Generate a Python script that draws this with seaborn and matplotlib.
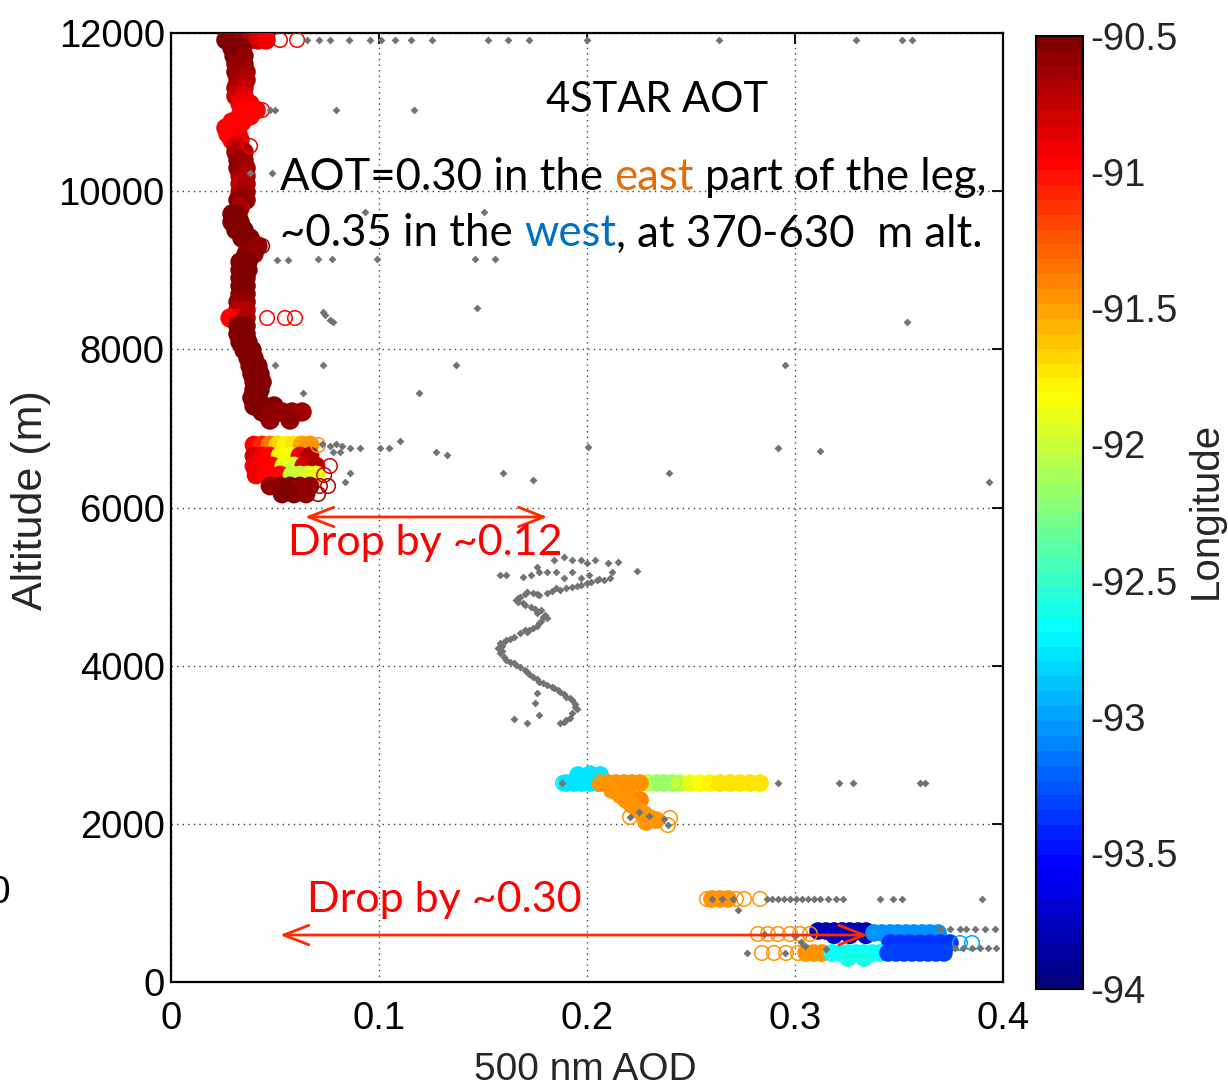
import matplotlib
matplotlib.use("Agg")
import matplotlib.pyplot as plt
import numpy as np
import pandas as pd
import seaborn as sns
from matplotlib.colors import Normalize, LinearSegmentedColormap
from matplotlib.cm import ScalarMappable

# ---------------------------------------------------------------------------
# 4STAR profile: 500 nm AOD vs altitude, coloured by longitude
# ---------------------------------------------------------------------------

# upper profile (dense track, filled circles)
upper_aod = [0.0264, 0.0303, 0.0341, 0.0380, 0.0418, 0.0457,
             0.0293, 0.0341, 0.0303, 0.0351, 0.0312, 0.0351, 0.0312, 0.0361,
             0.0322, 0.0361, 0.0312, 0.0351, 0.0312, 0.0351, 0.0332, 0.0380,
             0.0361, 0.0409, 0.0332, 0.0380, 0.0293, 0.0341, 0.0264, 0.0312,
             0.0274, 0.0322, 0.0293, 0.0332, 0.0312, 0.0312, 0.0351,
             0.0322, 0.0351, 0.0322, 0.0361, 0.0332, 0.0361, 0.0332, 0.0361,
             0.0332, 0.0361, 0.0322, 0.0361, 0.0332, 0.0293, 0.0322,
             0.0293, 0.0332, 0.0312, 0.0351, 0.0341, 0.0380, 0.0370, 0.0418,
             0.0361, 0.0399, 0.0332, 0.0370, 0.0332, 0.0370, 0.0332, 0.0361,
             0.0332, 0.0361, 0.0332, 0.0361, 0.0322, 0.0361, 0.0322, 0.0361,
             0.0284, 0.0322, 0.0361, 0.0322, 0.0361, 0.0322, 0.0361,
             0.0332, 0.0370, 0.0351, 0.0389, 0.0370, 0.0399, 0.0380, 0.0418,
             0.0389, 0.0428, 0.0399, 0.0438, 0.0399, 0.0428, 0.0389, 0.0418,
             0.0399, 0.0447, 0.0495, 0.0438, 0.0486, 0.0534, 0.0582, 0.0630,
             0.0476, 0.0572]
upper_alt = [11912, 11912, 11912, 11912, 11912, 11912,
             11810, 11810, 11709, 11709, 11608, 11608, 11507, 11507,
             11406, 11406, 11305, 11305, 11203, 11203, 11102, 11102,
             11026, 11026, 10951, 10951, 10875, 10875, 10799, 10799,
             10723, 10723, 10647, 10647, 10571, 10495, 10495,
             10394, 10394, 10293, 10293, 10192, 10192, 10091, 10091,
             9990, 9990, 9888, 9888, 9787, 9711, 9711,
             9610, 9610, 9509, 9509, 9408, 9408, 9307, 9307,
             9206, 9206, 9104, 9104, 9003, 9003, 8902, 8902,
             8801, 8801, 8700, 8700, 8599, 8599, 8497, 8497,
             8396, 8396, 8396, 8295, 8295, 8194, 8194,
             8093, 8093, 7992, 7992, 7890, 7890, 7789, 7789,
             7688, 7688, 7587, 7587, 7486, 7486, 7385, 7385,
             7284, 7284, 7284, 7208, 7208, 7208, 7208, 7208,
             7106, 7106]
upper_lon = [-90.55, -90.55, -90.60, -90.70, -90.80, -90.90,
             -90.55, -90.55, -90.55, -90.60, -90.60, -90.60, -90.60, -90.65,
             -90.65, -90.70, -90.70, -90.75, -90.80, -90.85, -90.90, -90.90,
             -90.96, -90.96, -90.96, -90.96, -90.96, -90.96, -90.96, -90.96,
             -90.96, -90.95, -90.95, -90.90, -90.80, -90.70, -90.70,
             -90.60, -90.65, -90.60, -90.65, -90.65, -90.70, -90.75, -90.70,
             -90.70, -90.65, -90.60, -90.60, -90.70, -90.50, -90.50,
             -90.50, -90.50, -90.50, -90.55, -90.55, -90.55, -90.55, -90.60,
             -90.60, -90.60, -90.55, -90.55, -90.50, -90.50, -90.50, -90.50,
             -90.50, -90.55, -90.55, -90.55, -90.60, -90.60, -90.70, -90.70,
             -90.96, -90.90, -90.70, -90.50, -90.50, -90.50, -90.50,
             -90.50, -90.50, -90.50, -90.50, -90.50, -90.50, -90.50, -90.55,
             -90.55, -90.55, -90.55, -90.55, -90.55, -90.55, -90.55, -90.55,
             -90.55, -90.55, -90.55, -90.55, -90.60, -90.60, -90.60, -90.65,
             -90.60, -90.60]

# level leg near 6.5 km
leg65_aod = [0.0399, 0.0438, 0.0476, 0.0514, 0.0553, 0.0591, 0.0630, 0.0668,
             0.0399, 0.0438, 0.0476, 0.0524, 0.0572, 0.0620, 0.0668,
             0.0399, 0.0438, 0.0486, 0.0543, 0.0591, 0.0639, 0.0697,
             0.0409, 0.0457, 0.0524, 0.0582, 0.0620, 0.0659, 0.0697,
             0.0476, 0.0524, 0.0572, 0.0620, 0.0668,
             0.0534, 0.0591, 0.0649]
leg65_alt = [6790, 6790, 6790, 6790, 6790, 6790, 6790, 6790,
             6651, 6651, 6651, 6651, 6651, 6651, 6651,
             6525, 6525, 6525, 6525, 6525, 6525, 6525,
             6411, 6411, 6411, 6411, 6411, 6411, 6411,
             6272, 6272, 6272, 6272, 6272,
             6171, 6171, 6171]
leg65_lon = [-90.96, -91.05, -91.35, -91.70, -91.80, -91.75, -91.50, -91.45,
             -90.80, -90.90, -90.96, -91.80, -91.85, -90.90, -90.70,
             -90.90, -90.95, -90.96, -91.90, -91.95, -90.80, -90.70,
             -90.90, -90.95, -90.96, -92.00, -92.00, -91.95, -91.90,
             -90.60, -90.60, -90.55, -90.60, -90.60,
             -90.55, -90.55, -90.60]

# level leg near 2.5 km and the descent below it
leg25_aod = [0.2293, 0.2332, 0.2370, 0.2409, 0.2447, 0.2495, 0.2543, 0.2591,
             0.2639, 0.2688, 0.2736, 0.2784, 0.2832,
             0.1899, 0.1938, 0.1976, 0.2014, 0.2053, 0.2091, 0.1957, 0.2014, 0.2063,
             0.2063, 0.2101, 0.2139, 0.2178, 0.2216, 0.2255,
             0.2197, 0.2120, 0.2159, 0.2255, 0.2188, 0.2216, 0.2245, 0.2274,
             0.2303, 0.2332, 0.2284]
leg25_alt = [2516, 2516, 2516, 2516, 2516, 2516, 2516, 2516,
             2516, 2516, 2516, 2516, 2516,
             2516, 2516, 2516, 2516, 2516, 2516, 2618, 2618, 2618,
             2516, 2516, 2516, 2516, 2516, 2516,
             2428, 2428, 2365, 2301, 2301, 2238, 2175, 2124,
             2074, 2048, 2023]
leg25_lon = [-92.00, -92.10, -92.15, -92.10, -92.00, -91.90, -91.85, -91.80,
             -91.75, -91.75, -91.72, -91.72, -91.72,
             -92.75, -92.75, -92.75, -92.75, -92.75, -92.75, -92.75, -92.75, -92.75,
             -91.45, -91.45, -91.45, -91.45, -91.45, -91.45,
             -91.45, -91.45, -91.45, -91.40, -91.45, -91.45, -91.45, -91.45,
             -91.45, -91.45, -91.45]

# low-level legs (1 km and 370-630 m)
low_aod = [0.2601, 0.2639, 0.2678,
           0.3111, 0.3149, 0.3188, 0.3226, 0.3264, 0.3303, 0.3341, 0.3188, 0.3264, 0.3341,
           0.3380, 0.3418, 0.3457, 0.3495, 0.3534, 0.3572, 0.3611, 0.3649, 0.3688,
           0.3457, 0.3505, 0.3553, 0.3601, 0.3649, 0.3697, 0.3745,
           0.3053, 0.3091, 0.3130,
           0.3178, 0.3216, 0.3255, 0.3293, 0.3332, 0.3370, 0.3409, 0.3255, 0.3332,
           0.3447, 0.3486, 0.3524, 0.3563, 0.3601, 0.3639, 0.3678, 0.3716]
low_alt = [1050, 1050, 1050,
           645, 645, 645, 645, 645, 645, 645, 590, 590, 590,
           620, 620, 620, 620, 620, 620, 620, 620, 620,
           493, 493, 493, 493, 493, 493, 493,
           367, 367, 367,
           367, 367, 367, 367, 367, 367, 367, 303, 303,
           367, 367, 367, 367, 367, 367, 367, 367]
low_lon = [-91.45, -91.45, -91.45,
           -93.80, -93.80, -93.80, -93.80, -93.80, -93.80, -93.80, -93.75, -93.75, -93.75,
           -93.05, -93.05, -93.05, -93.05, -93.05, -93.05, -93.05, -93.05, -93.05,
           -93.35, -93.35, -93.35, -93.35, -93.35, -93.35, -93.35,
           -91.45, -91.45, -91.45,
           -92.65, -92.65, -92.65, -92.65, -92.65, -92.65, -92.65, -92.60, -92.60,
           -93.30, -93.30, -93.30, -93.30, -93.30, -93.30, -93.30, -93.30]

# isolated samples drawn as open rings
ring_aod = [0.0524, 0.0606, 0.0438, 0.0380, 0.0438, 0.0462, 0.0548, 0.0596, 0.0635,
            0.0707, 0.0764, 0.0736, 0.0716, 0.0755, 0.0707,
            0.1885, 0.2014, 0.2350, 0.2420, 0.2207, 0.2399, 0.2389,
            0.2577, 0.2716, 0.2755, 0.2832,
            0.2822, 0.2870, 0.2918, 0.2976, 0.3024, 0.3072,
            0.2841, 0.2899, 0.2957, 0.3014, 0.3793, 0.3851]
ring_alt = [11912, 11912, 11026, 10571, 9307, 8396, 8396, 8396, 7208,
            6790, 6525, 6411, 6272, 6272, 6171,
            2516, 2640, 2516, 2516, 2086, 2074, 1985,
            1050, 1050, 1050, 1050,
            607, 607, 607, 607, 607, 607,
            367, 367, 367, 367, 493, 493]
ring_lon = [-90.90, -90.96, -90.96, -90.90, -90.60, -90.96, -90.96, -90.96, -90.65,
            -91.45, -90.80, -90.80, -90.70, -90.70, -90.60,
            -92.75, -92.75, -92.20, -92.20, -91.45, -91.45, -91.45,
            -91.45, -91.45, -91.45, -91.45,
            -91.45, -91.45, -91.45, -91.45, -91.45, -91.45,
            -91.45, -91.45, -91.45, -91.45, -93.00, -93.00]

# all retrievals (grey)
grey_aod = [0.0654, 0.0712, 0.0764, 0.0856, 0.0957, 0.1010, 0.1077, 0.1154, 0.1255,
            0.1524, 0.1620, 0.1721, 0.2000, 0.2635, 0.3293, 0.3514, 0.3562,
            0.0476, 0.0500, 0.0793, 0.1168, 0.0380, 0.0486, 0.0933, 0.1505,
            0.0510, 0.0563, 0.0707, 0.0774, 0.0990, 0.1462, 0.1558, 0.1471,
            0.0731, 0.0740, 0.0764, 0.0779, 0.3538, 0.0500, 0.0731, 0.1370, 0.2952,
            0.0635, 0.1192,
            0.0726, 0.0764, 0.0793, 0.0822, 0.0861, 0.0909, 0.1005, 0.1048, 0.1101,
            0.1274, 0.1327, 0.2005, 0.2918, 0.3120, 0.0779, 0.0813, 0.0861, 0.0837,
            0.1596, 0.2394, 0.3933, 0.1740,
            0.158, 0.161, 0.169, 0.173, 0.176, 0.177, 0.181, 0.184, 0.185, 0.189,
            0.189, 0.193, 0.193, 0.197, 0.197, 0.200, 0.201, 0.204, 0.205, 0.208,
            0.210, 0.212, 0.215, 0.224,
            0.202, 0.197, 0.193, 0.190, 0.185, 0.181, 0.177, 0.174, 0.171, 0.168,
            0.166, 0.169, 0.173, 0.176, 0.179, 0.181, 0.177, 0.174, 0.171, 0.168,
            0.165, 0.161, 0.158, 0.157, 0.158, 0.160, 0.161, 0.165, 0.168, 0.171,
            0.174, 0.177, 0.181, 0.184, 0.187, 0.190, 0.193, 0.194, 0.193, 0.192,
            0.189,
            0.176, 0.175, 0.177, 0.171, 0.165, 0.187,
            0.163, 0.160, 0.159, 0.158, 0.159, 0.163, 0.166, 0.170, 0.172, 0.176,
            0.179, 0.183, 0.186, 0.189, 0.192, 0.194, 0.195, 0.190, 0.170, 0.172,
            0.176, 0.178, 0.180, 0.178, 0.175, 0.170, 0.167, 0.167, 0.170, 0.176,
            0.183, 0.187, 0.195, 0.200, 0.206, 0.211,
            0.1880, 0.2918, 0.3212, 0.3280, 0.3600, 0.3625, 0.2207, 0.2389, 0.2370,
            0.2250, 0.2300,
            0.2865, 0.2889, 0.2918, 0.2947, 0.2976, 0.3005, 0.3034, 0.3063, 0.3091,
            0.3120, 0.3159, 0.3197, 0.3231, 0.3409, 0.3471, 0.3514, 0.3899, 0.2726,
            0.2600, 0.2650, 0.2700,
            0.3697, 0.3745, 0.3793, 0.3822, 0.3865, 0.3913, 0.3962,
            0.3769, 0.3808, 0.3851, 0.3889, 0.3928, 0.3966,
            0.2769, 0.2850, 0.2950, 0.3000, 0.3030, 0.3050, 0.3150]
grey_alt = [11912, 11912, 11912, 11912, 11912, 11912, 11912, 11912, 11912,
            11912, 11912, 11912, 11912, 11912, 11912, 11912, 11912,
            11026, 11026, 11026, 11026, 10230, 10230, 9737, 9737,
            9130, 9130, 9142, 9142, 9142, 9142, 9142, 8523,
            8472, 8440, 8371, 8346, 8346, 7802, 7802, 7802, 7802,
            7448, 7448,
            6803, 6778, 6803, 6778, 6752, 6752, 6752, 6752, 6841,
            6702, 6664, 6765, 6752, 6714, 6702, 6702, 6436, 6323,
            6436, 6436, 6323, 6348,
            5147, 5147, 5125, 5147, 5252, 5188, 5188, 5336, 5188, 5378,
            5105, 5336, 5188, 5336, 5105, 5294, 5147, 5336, 5083, 5083,
            5294, 5188, 5315, 5201,
            5062, 5020, 4999, 4978, 4978, 4915, 4894, 4915, 4936, 4873,
            4830, 4788, 4746, 4662, 4620, 4599, 4536, 4472, 4430, 4409,
            4367, 4325, 4282, 4219, 4156, 4114, 4072, 4030, 3987, 3924,
            3861, 3798, 3756, 3714, 3671, 3608, 3566, 3482, 3397, 3334,
            3292,
            3650, 3524, 3376, 3271, 3326, 3271,
            4340, 4300, 4250, 4200, 4180, 4050, 4010, 3950, 3890, 3830,
            3780, 3730, 3690, 3640, 3590, 3520, 3450, 3310, 4450, 4450,
            4500, 4560, 4640, 4700, 4720, 4770, 4810, 4850, 4900, 4900,
            4940, 4960, 5010, 5050, 5090, 5110,
            2516, 2516, 2516, 2516, 2516, 2516, 2086, 1985, 2060,
            2150, 2100,
            1050, 1050, 1050, 1050, 1050, 1050, 1050, 1050, 1050,
            1050, 1050, 1050, 1050, 1050, 1050, 1050, 1050, 910,
            1050, 1050, 1050,
            670, 670, 670, 670, 670, 670, 670,
            430, 430, 430, 430, 430, 430,
            367, 607, 367, 580, 500, 450, 420]

lon_min, lon_max = -94.0, -90.5
lon_ticks = [-94, -93.5, -93, -92.5, -92, -91.5, -91, -90.5]
x_ticks = [0, 0.1, 0.2, 0.3, 0.4]
y_ticks = [0, 2000, 4000, 6000, 8000, 10000, 12000]

# ---------------------------------------------------------------------------
W, H = 1228, 1090
sns.set_theme(style="white")
plt.rcParams["font.family"] = ["Liberation Sans", "DejaVu Sans"]
ann_font = ["Lato", "DejaVu Sans"]

# classic 64-level jet (dark blue -> cyan -> yellow -> dark red)
cmap = LinearSegmentedColormap("jet64", {
    "red":   [(0.0, 0.0, 0.0), (0.375, 0.0, 0.0), (0.625, 1.0, 1.0),
              (0.875, 1.0, 1.0), (1.0, 0.5, 0.5)],
    "green": [(0.0, 0.0, 0.0), (0.125, 0.0, 0.0), (0.375, 1.0, 1.0),
              (0.625, 1.0, 1.0), (0.875, 0.0, 0.0), (1.0, 0.0, 0.0)],
    "blue":  [(0.0, 0.5, 0.5), (0.125, 1.0, 1.0), (0.375, 1.0, 1.0),
              (0.625, 0.0, 0.0), (1.0, 0.0, 0.0)],
}, N=64)
norm = Normalize(vmin=lon_min, vmax=lon_max)

fig = plt.figure(figsize=(W / 100, H / 100), dpi=100)
fig.patch.set_facecolor("white")
ax = fig.add_axes([171 / W, 1 - 982 / H, (1003 - 171) / W, (982 - 33) / H])
ax.set_facecolor("white")


def coloured(aod, alt, lon, size, filled):
    df = pd.DataFrame({"aod": aod, "alt": alt, "lon": lon})
    sns.scatterplot(data=df, x="aod", y="alt", hue="lon", palette=cmap,
                    hue_norm=norm, s=size, marker="o",
                    linewidth=1.3 if filled else 1.1,
                    legend=False, ax=ax, zorder=3)
    coll = ax.collections[-1]
    fc = coll.get_facecolors()
    coll.set_edgecolors(fc)
    if not filled:
        coll.set_facecolors("none")


coloured(upper_aod, upper_alt, upper_lon, 160, True)
coloured(leg65_aod, leg65_alt, leg65_lon, 150, True)
coloured(leg25_aod, leg25_alt, leg25_lon, 130, True)
coloured(low_aod, low_alt, low_lon, 130, True)
coloured(ring_aod, ring_alt, ring_lon, 110, False)

grey_df = pd.DataFrame({"aod": grey_aod, "alt": grey_alt})
sns.scatterplot(data=grey_df, x="aod", y="alt", color="#737373", marker="D",
                s=16, linewidth=0, legend=False, ax=ax, zorder=4)

ax.set_xlim(0, 0.4)
ax.set_ylim(0, 12000)
ax.set_xticks(x_ticks)
ax.set_xticklabels(["0", "0.1", "0.2", "0.3", "0.4"])
ax.set_yticks(y_ticks)
ax.set_yticklabels([str(v) for v in y_ticks])
ax.tick_params(direction="in", length=8, width=1.3, labelsize=27.5,
               top=True, right=True, colors="black", pad=4.5)
ax.tick_params(axis="x", pad=14)
ax.grid(True, color="#444444", linestyle=(0, (1, 3)), linewidth=1.0)
for sp in ax.spines.values():
    sp.set_color("black")
    sp.set_linewidth(1.6)
ax.set_xlabel("500 nm AOD", fontsize=28, va="center", ha="center")
ax.xaxis.set_label_coords((585 - 171) / 832, -(1070 - 982) / 949)
ax.set_ylabel("Altitude (m)", fontsize=31, va="center", ha="center")
ax.yaxis.set_label_coords((31 - 171) / 832, (982 - 500) / 949)

# colour bar
cax = fig.add_axes([1036 / W, 1 - 989 / H, 47 / W, (989 - 36) / H])
sm = ScalarMappable(norm=norm, cmap=cmap)
cb = fig.colorbar(sm, cax=cax, ticks=lon_ticks)
cb.ax.set_yticklabels(["%g" % t for t in lon_ticks])
cb.ax.tick_params(direction="in", length=7, width=1.3, labelsize=27.5,
                  left=True, right=True, pad=5)
cb.outline.set_linewidth(1.5)
cb.outline.set_edgecolor("black")
cax.set_ylabel("Longitude", fontsize=29, va="center", ha="center")
cax.yaxis.set_label_coords((1206 - 1036) / 47, (989 - 510) / 953)

# drop annotations
arrow_red = "#ff2a00"
ax.annotate("", xy=(0.181, 5880), xytext=(0.0644, 5880),
            arrowprops=dict(arrowstyle="<->,head_length=0.9,head_width=0.35",
                            color=arrow_red, lw=2, mutation_scale=20,
                            shrinkA=0, shrinkB=0), zorder=6)
ax.annotate("", xy=(0.335, 594), xytext=(0.0524, 594),
            arrowprops=dict(arrowstyle="<->,head_length=0.9,head_width=0.35",
                            color=arrow_red, lw=2, mutation_scale=20,
                            shrinkA=0, shrinkB=0), zorder=6)
ax.text(0.0563, 5551, "Drop by ~0.12", color="#ff0000", fontsize=31,
        family=ann_font, va="center", ha="left", zorder=6)
ax.text(0.0654, 1037, "Drop by ~0.30", color="#ff0000", fontsize=31,
        family=ann_font, va="center", ha="left", zorder=6)

# text block in figure pixels
fig.text(657 / W, 1 - 100 / H, "4STAR AOT", fontsize=30, family=ann_font,
         ha="center", va="center", color="black")

fig.canvas.draw()
renderer = fig.canvas.get_renderer()


def text_width(s, size):
    t = fig.text(0, 0, s, fontsize=size, family=ann_font)
    w = t.get_window_extent(renderer).width
    t.remove()
    return w


def coloured_line(x_px, y_px, pieces, size):
    prefix = ""
    for s, c in pieces:
        lead = len(s) - len(s.lstrip())
        prefix += s[:lead]
        if prefix:
            off = text_width(prefix + "|", size) - text_width("|", size)
        else:
            off = 0.0
        fig.text((x_px + off) / W, 1 - y_px / H, s.lstrip(), fontsize=size,
                 family=ann_font, ha="left", va="center", color=c)
        prefix += s[lead:]


coloured_line(280, 178, [("AOT=0.30 in the ", "black"), ("east", "#e46c0a"),
                         (" part of the leg,", "black")], 31.5)
coloured_line(280, 234, [("~0.35 in the ", "black"), ("west", "#0070c0"),
                         (", at 370-630  m alt.", "black")], 31.5)

# clipped character at the left edge of the page
fig.text(-12 / W, 1 - 893 / H, "0", fontsize=28, ha="left", va="center",
         color="black")

fig.savefig("out.png", dpi=100, facecolor="white")
